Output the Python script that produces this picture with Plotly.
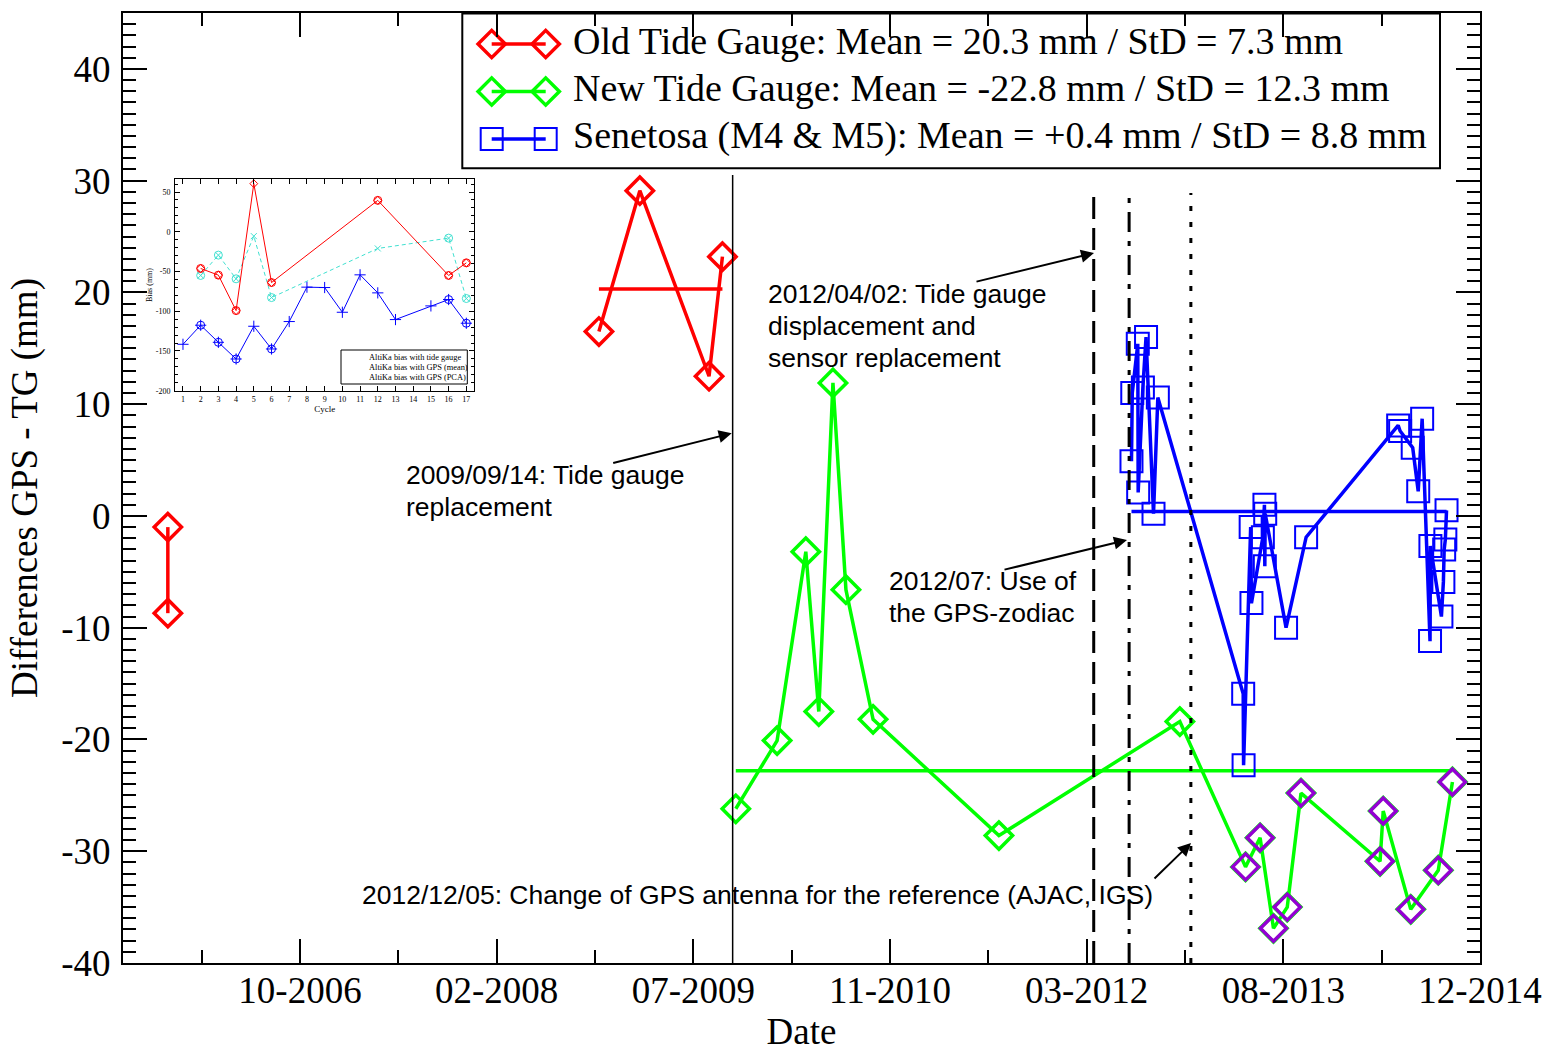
import pandas as pd
import plotly.graph_objects as go

# ---------------- data ----------------
old_dates = ["2005-10-22", "2005-10-22", None,
             "2008-10-22", "2009-02-03", "2009-07-29", "2009-09-01"]
old_vals = [-1.0, -8.7, None, 16.5, 29.1, 12.5, 23.2]
old_mean_dates = ["2008-10-22", "2009-09-01"]
old_mean = 20.3

new_dates = ["2009-10-05", "2010-01-18", "2010-04-01", "2010-05-04", "2010-06-09",
             "2010-07-12", "2010-09-19", "2011-08-05", "2012-11-07", "2013-04-23",
             "2013-05-30", "2013-07-03", "2013-08-07", "2013-09-11", "2014-03-31",
             "2014-04-08", "2014-06-17", "2014-08-26", "2014-10-01"]
new_vals = [-26.2, -20.1, -3.2, -17.5, 11.9, -6.6, -18.2, -28.6, -18.4, -31.4,
            -28.8, -36.9, -35.0, -24.8, -30.9, -26.4, -35.2, -31.7, -23.8]
new_mean_dates = ["2009-10-05", "2014-10-01"]
new_mean = -22.8

flag_dates = ["2013-04-23", "2013-05-30", "2013-07-03", "2013-08-07", "2013-09-11",
              "2014-03-31", "2014-04-08", "2014-06-17", "2014-08-26", "2014-10-01"]
flag_vals = [-31.4, -28.8, -36.9, -35.0, -24.8, -30.9, -26.4, -35.2, -31.7, -23.8]

sen_dates = ["2012-07-07", "2012-07-09", "2012-07-23", "2012-07-24", "2012-08-05",
             "2012-08-13", "2012-09-01", "2012-09-12",
             "2013-04-17", "2013-04-18", "2013-05-06", "2013-05-08", "2013-06-06",
             "2013-06-10", "2013-06-11", "2013-06-12", "2013-08-04", "2013-09-24",
             "2014-05-16", "2014-05-21", "2014-06-22", "2014-07-06", "2014-07-16",
             "2014-08-05", "2014-08-06", "2014-09-03", "2014-09-08", "2014-09-10",
             "2014-09-13", "2014-09-16"]
sen_vals = [4.9, 11.0, 15.4, 2.1, 11.5, 16.0, 0.2, 10.6,
            -15.9, -22.3, -1.0, -7.8, -1.9, 1.0, -4.5, 0.2, -10.0, -1.9,
            8.1, 7.6, 6.1, 2.2, 8.7, -11.2, -2.7, -9.0, -5.9, -3.0, -2.1, 0.5]
sen_mean_dates = ["2012-07-07", "2014-09-16"]
sen_mean = 0.4

legend_labels = ["Old Tide Gauge: Mean = 20.3 mm / StD = 7.3 mm",
                 "New Tide Gauge: Mean = -22.8 mm / StD = 12.3 mm",
                 "Senetosa (M4 &amp; M5): Mean = +0.4 mm / StD = 8.8 mm"]

event_dates = ["2009-09-27", "2012-04-02", "2012-07-01", "2012-12-05"]
event_tops = [30.5, 28.9, 28.9, 28.9]

x_tick_labels = ["10-2006", "02-2008", "07-2009", "11-2010", "03-2012", "08-2013", "12-2014"]
y_tick_vals = [-40, -30, -20, -10, 0, 10, 20, 30, 40]
y_tick_labels = ["-40", "-30", "-20", "-10", "0", "10", "20", "30", "40"]

# inset (AltiKa biases per cycle)
cycles_tg = [1, 2, 3, 4, 5, 6, 7, 8, 9, 10, 11, 12, 13, 15, 16, 17]
bias_tg = [-141.6, -117.6, -139.1, -160.1, -118.9, -147.5, -113.0, -69.7, -70.2,
           -101.3, -54.2, -76.9, -110.5, -93.3, -85.3, -115.1]
cycles_gps = [2, 3, 4, 5, 6, 12, 16, 17]
bias_gps_mean = [-55.0, -29.4, -59.2, -5.5, -82.8, -21.0, -8.0, -84.0]
bias_gps_pca = [-46.2, -54.6, -99.2, 60.5, -63.9, 39.5, -55.0, -39.1]
circled_tg = [2, 3, 4, 6, 16, 17]
circled_mean = [2, 3, 4, 6, 16, 17]
circled_pca = [2, 3, 4, 6, 12, 16, 17]
inset_labels = ["AltiKa bias with tide gauge", "AltiKa bias with GPS (mean)",
                "AltiKa bias with GPS (PCA)"]
inset_y_vals = [-200, -150, -100, -50, 0, 50]
inset_y_labels = ["-200", "-150", "-100", "-50", "0", "50"]

# ---------------- styling ----------------
SERIF = "Liberation Serif, Times New Roman, serif"
SANS = "Liberation Sans, Arial, sans-serif"
RED, GREEN, BLUE, PURPLE, CYAN = "#ff0000", "#00ff00", "#0000ff", "#9400d3", "#40e0d0"
W, H = 1546, 1058
L, R, T, B = 123, 66, 13, 95
PW, PH = W - L - R, H - T - B

D0 = pd.Timestamp("2006-09-23")
STEP = 500
x_major = [(D0 + pd.Timedelta(days=STEP * k)).strftime("%Y-%m-%d") for k in range(7)]
x_minor = [(D0 + pd.Timedelta(days=STEP * k - STEP // 2)).strftime("%Y-%m-%d") for k in range(7)]
x_range = [(D0 - pd.Timedelta(days=450)).strftime("%Y-%m-%d"),
           (D0 + pd.Timedelta(days=3000, hours=2)).strftime("%Y-%m-%d %H:%M")]

fig = go.Figure()

DIA = 21
SQ = 22
LW = 3.5

# Old tide gauge
fig.add_trace(go.Scatter(x=old_mean_dates, y=[old_mean] * 2, mode="lines",
                         line=dict(color=RED, width=LW), hoverinfo="skip"))
fig.add_trace(go.Scatter(x=old_dates, y=old_vals, mode="lines+markers", name="Old Tide Gauge",
                         line=dict(color=RED, width=LW),
                         marker=dict(symbol="diamond-open", size=DIA, color=RED,
                                     line=dict(color=RED, width=3.5))))
# New tide gauge
fig.add_trace(go.Scatter(x=new_mean_dates, y=[new_mean] * 2, mode="lines",
                         line=dict(color=GREEN, width=LW), hoverinfo="skip"))
fig.add_trace(go.Scatter(x=new_dates, y=new_vals, mode="lines+markers", name="New Tide Gauge",
                         line=dict(color=GREEN, width=LW),
                         marker=dict(symbol="diamond-open", size=DIA, color=GREEN,
                                     line=dict(color=GREEN, width=3.5))))
fig.add_trace(go.Scatter(x=flag_dates, y=flag_vals, mode="markers",
                         marker=dict(symbol="diamond-open", size=DIA - 1, color=PURPLE,
                                     line=dict(color=PURPLE, width=3.5))))
# Senetosa
fig.add_trace(go.Scatter(x=sen_mean_dates, y=[sen_mean] * 2, mode="lines",
                         line=dict(color=BLUE, width=LW), hoverinfo="skip"))
fig.add_trace(go.Scatter(x=sen_dates, y=sen_vals, mode="lines+markers", name="Senetosa",
                         line=dict(color=BLUE, width=LW),
                         marker=dict(symbol="square-open", size=SQ, color=BLUE,
                                     line=dict(color=BLUE, width=2))))

# event lines
event_dash = ["solid", "22px,9px", "20px,9px,5px,9px", "5px,11px"]
event_width = [1.5, 3, 3, 3]
for d, top, dash, w in zip(event_dates, event_tops, event_dash, event_width):
    fig.add_shape(type="line", xref="x", yref="y", x0=d, x1=d, y0=-40, y1=top,
                  line=dict(color="black", width=w, dash=dash))

# ---------------- inset ----------------
fig.add_trace(go.Scatter(x=cycles_tg, y=bias_tg, xaxis="x3", yaxis="y3", mode="lines+markers",
                         line=dict(color=BLUE, width=1),
                         marker=dict(symbol="cross-thin-open", size=8, color=BLUE,
                                     line=dict(color=BLUE, width=1))))
fig.add_trace(go.Scatter(x=circled_tg, y=[bias_tg[cycles_tg.index(c)] for c in circled_tg],
                         xaxis="x3", yaxis="y3", mode="markers",
                         marker=dict(symbol="circle-open", size=8, color=BLUE,
                                     line=dict(color=BLUE, width=1))))
fig.add_trace(go.Scatter(x=cycles_gps, y=bias_gps_mean, xaxis="x3", yaxis="y3", mode="lines+markers",
                         line=dict(color=CYAN, width=1, dash="4px,3px"),
                         marker=dict(symbol="x-thin-open", size=6, color=CYAN,
                                     line=dict(color=CYAN, width=1))))
fig.add_trace(go.Scatter(x=circled_mean, y=[bias_gps_mean[cycles_gps.index(c)] for c in circled_mean],
                         xaxis="x3", yaxis="y3", mode="markers",
                         marker=dict(symbol="circle-open", size=8, color=CYAN,
                                     line=dict(color=CYAN, width=1))))
fig.add_trace(go.Scatter(x=cycles_gps, y=bias_gps_pca, xaxis="x3", yaxis="y3", mode="lines+markers",
                         line=dict(color=RED, width=1),
                         marker=dict(symbol="diamond-open", size=6, color=RED,
                                     line=dict(color=RED, width=1))))
fig.add_trace(go.Scatter(x=circled_pca, y=[bias_gps_pca[cycles_gps.index(c)] for c in circled_pca],
                         xaxis="x3", yaxis="y3", mode="markers",
                         marker=dict(symbol="circle-open", size=8, color=RED,
                                     line=dict(color=RED, width=1))))

# ---------------- custom legends (overlay axis in plot pixels) ----------------
leg_rows = [44, 91.5, 139]
leg_sample_x = [491.7, 545.7]
leg_text_x = 571
leg_styles = [("diamond-open", RED, DIA, 3.5), ("diamond-open", GREEN, DIA, 3.5),
              ("square-open", BLUE, SQ, 2)]
for yrow, (sym, col, sz, mw), lab in zip(leg_rows, leg_styles, legend_labels):
    fig.add_trace(go.Scatter(x=leg_sample_x, y=[yrow, yrow], xaxis="x4", yaxis="y4",
                             mode="lines+markers", line=dict(color=col, width=LW),
                             marker=dict(symbol=sym, size=sz, color=col, line=dict(color=col, width=mw)),
                             hoverinfo="skip"))
    fig.add_annotation(xref="x4", yref="y4", x=leg_text_x, y=yrow - 3.5, text=lab, showarrow=False,
                       xanchor="left", yanchor="middle", font=dict(family=SERIF, size=38, color="black"))
fig.add_shape(type="rect", xref="x4", yref="y4", x0=462.3, x1=1440, y0=13.5, y1=168.3,
              line=dict(color="black", width=2), layer="below")

ins_rows = [357.5, 367.5, 377.8]
ins_sample_x = [344.5, 361.5]
ins_styles = [("cross-thin-open", BLUE, 7, "solid"), ("x-thin-open", CYAN, 6, "3px,2px"),
              ("diamond-open", RED, 6, "solid")]
for yrow, (sym, col, sz, dash), lab in zip(ins_rows, ins_styles, inset_labels):
    fig.add_trace(go.Scatter(x=ins_sample_x, y=[yrow, yrow], xaxis="x4", yaxis="y4",
                             mode="lines+markers", line=dict(color=col, width=1, dash=dash),
                             marker=dict(symbol=sym, size=sz, color=col, line=dict(color=col, width=1)),
                             hoverinfo="skip"))
    fig.add_annotation(xref="x4", yref="y4", x=366.5, y=yrow, text=lab, showarrow=False,
                       xanchor="left", yanchor="middle", font=dict(family=SERIF, size=8.4, color="black"))
fig.add_shape(type="rect", xref="x4", yref="y4", x0=341, x1=467.3, y0=350, y1=384,
              line=dict(color="black", width=1), layer="above")

# ---------------- event annotations ----------------
text_lines = [
    ("2009/09/14: Tide gauge", 404, 475), ("replacement", 404, 507),
    ("2012/04/02: Tide gauge", 766, 294), ("displacement and", 766, 326),
    ("sensor replacement", 766, 358),
    ("2012/07: Use of", 887, 581), ("the GPS-zodiac", 887, 613),
    ("2012/12/05: Change of GPS antenna for the reference (AJAC, IGS)", 360, 895),
]
for txt, xp, yp in text_lines:
    fig.add_annotation(xref="x4", yref="y4", x=xp, y=yp, text=txt, showarrow=False,
                       xanchor="left", yanchor="middle", font=dict(family=SANS, size=26.5, color="black"))
arrows = [((611.7, 463.3), (731.7, 433.3)), ((975, 282), (1094, 253)),
          ((1003, 570), (1127, 540)), ((1153, 880), (1191, 843))]
for (tx, ty), (hx, hy) in arrows:
    fig.add_annotation(xref="x4", yref="y4", axref="x4", ayref="y4", x=hx, y=hy, ax=tx, ay=ty,
                       text="", showarrow=True, arrowhead=2, arrowsize=1.3, arrowwidth=2,
                       arrowcolor="black", standoff=0, startstandoff=0)

# ---------------- layout ----------------
axis_common = dict(showline=True, linecolor="black", showgrid=False, zeroline=False,
                   ticks="inside", tickcolor="black", automargin=False)
fig.update_layout(
    width=W, height=H, margin=dict(l=L, r=R, t=T, b=B, pad=0, autoexpand=False),
    paper_bgcolor="white", plot_bgcolor="white", showlegend=False,
    xaxis=dict(**axis_common, type="date", range=x_range, linewidth=2, mirror="ticks",
               tickmode="array", tickvals=x_major, ticktext=x_tick_labels,
               ticklen=24, tickwidth=2, ticklabelstandoff=-6,
               minor=dict(tickmode="array", tickvals=x_minor, ticks="inside", ticklen=13,
                          tickwidth=2, tickcolor="black"),
               tickfont=dict(family=SERIF, size=37, color="black"),
               title=dict(text="Date", font=dict(family=SERIF, size=37, color="black"), standoff=2)),
    yaxis=dict(**axis_common, range=[-40, 45], linewidth=2, mirror="ticks",
               tickmode="array", tickvals=y_tick_vals, ticktext=y_tick_labels,
               ticklen=24, tickwidth=2, ticklabelstandoff=3,
               minor=dict(dtick=1, tick0=0, ticks="inside", ticklen=13, tickwidth=2, tickcolor="black"),
               tickfont=dict(family=SERIF, size=37, color="black"),
               title=dict(text="Differences GPS - TG (mm)",
                          font=dict(family=SERIF, size=37, color="black"), standoff=12)),
    xaxis3=dict(**axis_common, domain=[(175 - L) / PW, (474.3 - L) / PW], anchor="y3",
                range=[0.55, 17.45], linewidth=1, mirror="ticks", tickmode="array",
                tickvals=list(range(1, 18)), ticklen=5, tickwidth=1, ticklabelstandoff=1,
                tickfont=dict(family=SERIF, size=8, color="black"),
                title=dict(text="Cycle", font=dict(family=SERIF, size=9, color="black"), standoff=1)),
    yaxis3=dict(**axis_common, domain=[(T + PH - 390.7) / PH, (T + PH - 179.3) / PH], anchor="x3",
                range=[-200, 66], linewidth=1, mirror="ticks", tickmode="array",
                tickvals=inset_y_vals, ticktext=inset_y_labels, ticklen=5, tickwidth=1,
                ticklabelstandoff=2,
                minor=dict(dtick=10, tick0=0, ticks="inside", ticklen=3, tickwidth=1, tickcolor="black"),
                tickfont=dict(family=SERIF, size=8, color="black"),
                title=dict(text="Bias (mm)", font=dict(family=SERIF, size=8, color="black"), standoff=1)),
    xaxis4=dict(overlaying="x", range=[L, L + PW], visible=False, fixedrange=True),
    yaxis4=dict(overlaying="y", range=[T + PH, T], visible=False, fixedrange=True),
)

fig.write_html("out.html")
